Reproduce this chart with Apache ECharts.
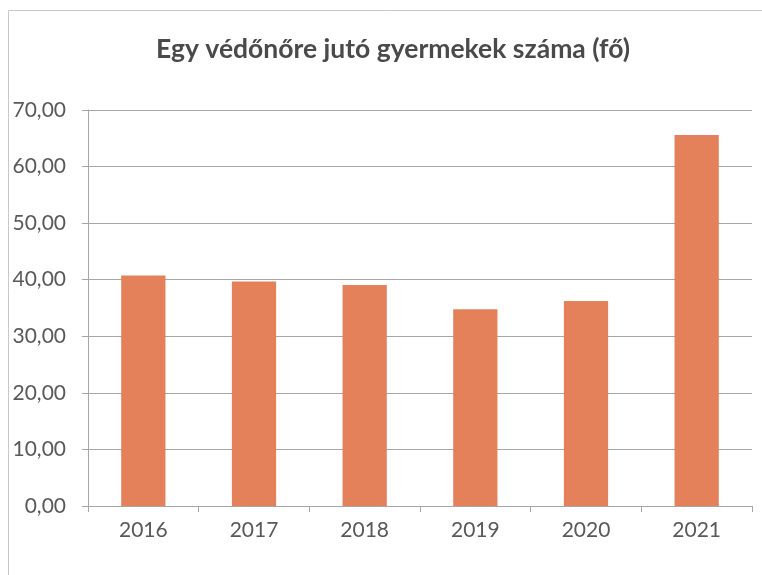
<!DOCTYPE html>
<html>
<head>
<meta charset="utf-8">
<script src="https://cdn.jsdelivr.net/npm/echarts@6/dist/echarts.min.js"></script>
<style>
  html, body { margin: 0; padding: 0; background: #ffffff; }
  #chart { width: 762px; height: 575px; }
</style>
</head>
<body>
<div id="chart"></div>
<script>
// Number of children per health visitor, by year
const years = ['2016', '2017', '2018', '2019', '2020', '2021'];
const childrenPerVisitor = [40.75, 39.7, 39.05, 34.8, 36.25, 65.6];
const yTicks = { min: 0, max: 70, step: 10 };

const textColor = '#595959';
const gridColor = '#a6a6a6';
const fontFamily = 'Lato, "Open Sans", sans-serif';

const chart = echarts.init(document.getElementById('chart'), null, { renderer: 'canvas' });

chart.setOption({
  backgroundColor: '#ffffff',
  animation: false,
  title: {
    text: 'Egy védőnőre jutó gyermekek száma (fő)',
    left: 388,
    textAlign: 'center',
    top: 31,
    textStyle: { color: '#4a4a4a', fontSize: 26.5, fontWeight: 'bold', fontFamily: fontFamily }
  },
  graphic: [{
    type: 'polyline',
    shape: { points: [[8.5, 575], [8.5, 10.5], [762, 10.5]] },
    style: { stroke: '#c8c8c8', lineWidth: 1, fill: null },
    silent: true
  }],
  grid: { left: 88, right: 10, top: 110, bottom: 69 },
  xAxis: {
    type: 'category',
    data: years,
    axisLine: { show: true, lineStyle: { color: gridColor, width: 1 } },
    axisTick: { show: true, length: 6, alignWithLabel: false, lineStyle: { color: gridColor } },
    axisLabel: { color: textColor, fontSize: 21, fontFamily: fontFamily, margin: 14 }
  },
  yAxis: {
    type: 'value',
    min: yTicks.min,
    max: yTicks.max,
    interval: yTicks.step,
    axisLine: { show: true, lineStyle: { color: gridColor, width: 1 } },
    axisTick: { show: true, length: 6, lineStyle: { color: gridColor } },
    splitLine: { show: true, lineStyle: { color: gridColor, width: 1 } },
    axisLabel: {
      color: textColor, fontSize: 21, fontFamily: fontFamily, margin: 22,
      formatter: v => v.toFixed(2).replace('.', ',')
    }
  },
  series: [{
    type: 'bar',
    data: childrenPerVisitor,
    barWidth: '40%',
    itemStyle: { color: '#e4805a' }
  }]
});
</script>
</body>
</html>
